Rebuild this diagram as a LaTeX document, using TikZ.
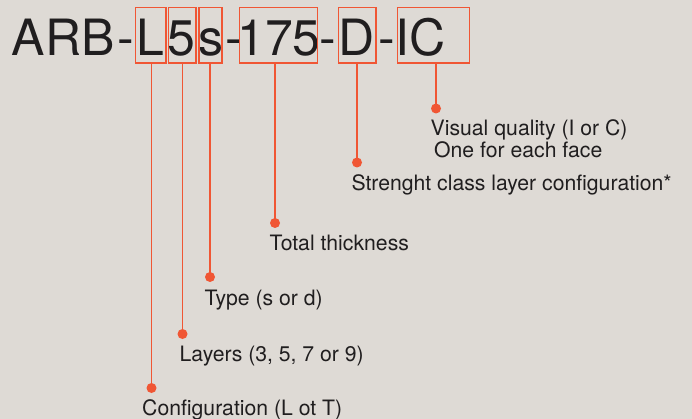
\documentclass[tikz,border=0pt]{standalone}
\usepackage{fontspec}
\setmainfont{TeX Gyre Heros}
\definecolor{bg}{RGB}{222,218,213}
\definecolor{acc}{RGB}{240,86,52}
\definecolor{ink}{RGB}{32,30,31}
\begin{document}
\begin{tikzpicture}[x=1pt,y=-1pt,
  big/.style={anchor=base west,inner sep=0pt,text=ink,font=\fontsize{50}{60}\selectfont},
  lbl/.style={anchor=base west,inner sep=0pt,text=ink,font=\fontsize{21.2}{24}\selectfont},
  codebox/.style={draw=acc,line width=1.5pt},
  leader/.style={draw=acc,line width=1.6pt},
  dot/.style={circle,fill=acc,inner sep=0pt,minimum size=10pt}]
\fill[bg] (0,0) rectangle (692,419);
\useasboundingbox (0,0) rectangle (692,419);
% big code
\node[big] (arb) at (11.8,56) {ARB};
\node[big] (h1) at (117,56) {-};
\node[big] (cL) at (136.2,56) {L};
\node[big] (c5) at (167.4,56) {5};
\node[big] (cs) at (198.4,56) {s};
\node[big] (h2) at (225,56) {-};
\node[big] (c175) at (237,56) {175};
\node[big] (h3) at (319,56) {-};
\node[big] (cD) at (338,56) {D};
\node[big] (h4) at (378,56) {-};
\node[big] (cIC) at (395.5,56) {IC};
% boxes
\draw[codebox] (135.5,7.7) rectangle (166,63);
\draw[codebox] (168.5,7.7) rectangle (196,63);
\draw[codebox] (199,7.7) rectangle (222,63);
\draw[codebox] (239.5,7.7) rectangle (317.5,63);
\draw[codebox] (338.5,7.7) rectangle (376,63);
\draw[codebox] (397.5,7.7) rectangle (469.5,63);
% anchors on box bottoms
\coordinate (tL) at (151.5,63);
\coordinate (t5) at (182.5,63);
\coordinate (ts) at (210,63);
\coordinate (t175) at (275,63);
\coordinate (tD) at (357,63);
\coordinate (tIC) at (436,63);
% dots
\node[dot] (dL) at (151.5,388) {};
\node[dot] (d5) at (182.5,334) {};
\node[dot] (ds) at (210,277) {};
\node[dot] (d175) at (275,223) {};
\node[dot] (dD) at (357,162.5) {};
\node[dot] (dIC) at (436,108.5) {};
% leaders
\draw[leader] (tL) -- (dL.center);
\draw[leader] (t5) -- (d5.center);
\draw[leader] (ts) -- (ds.center);
\draw[leader] (t175) -- (d175.center);
\draw[leader] (tD) -- (dD.center);
\draw[leader] (tIC) -- (dIC.center);
% labels
\node[lbl] (lIC1) at (430.5,136) {Visual quality (I or C)};
\node[lbl] (lIC2) at (434,157.3) {One for each face};
\node[lbl] (lD) at (351.3,190.7) {Strenght class layer configuration*};
\node[lbl] (l175) at (269.5,251) {Total thickness};
\node[lbl] (ls) at (204.5,305) {Type (s or d)};
\node[lbl] (l5) at (179.5,361) {Layers (3, 5, 7 or 9)};
\node[lbl] (lL) at (142,415.5) {Configuration (L ot T)};
\end{tikzpicture}
\end{document}
